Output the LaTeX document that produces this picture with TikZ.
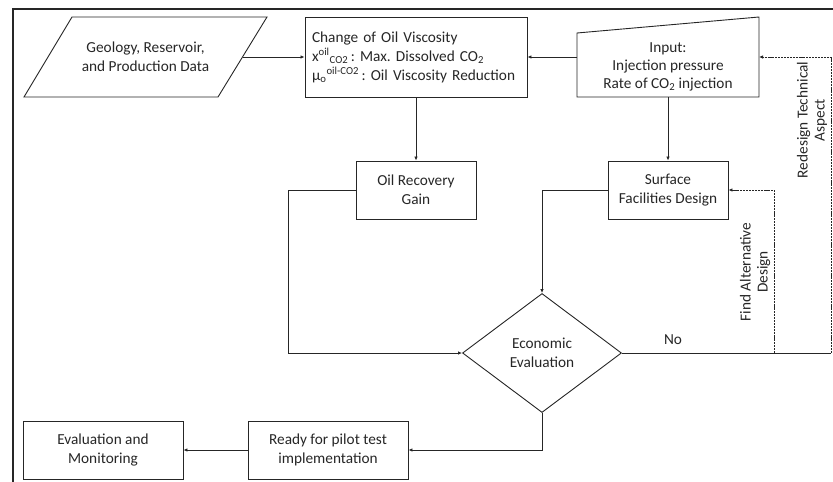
\documentclass[tikz,border=0pt]{standalone}
\usepackage{fontspec}
\setmainfont{Carlito}
\usetikzlibrary{arrows.meta,shapes.geometric}
\frenchspacing
\begin{document}
\begin{tikzpicture}[x=1pt,y=-1pt,
  every node/.style={font=\fontsize{15.3}{19}\selectfont, text=black!85},
  ln/.style={draw=black!85, line width=0.9pt},
  box/.style={ln, minimum width=120, minimum height=58, inner sep=0, align=center},
  arr/.style={ln, -{Latex[length=4pt,width=3.5pt]}},
  dsh/.style={arr, dash pattern=on 2.2pt off 0.9pt},
  rot/.style={rotate=90, align=center, font=\fontsize{15.3}{17}\selectfont}
]
\useasboundingbox (0,0) rectangle (833,482);
% frame
\draw[ln, line width=1.3pt] (13,482) -- (13,9) -- (833,9);

% geology parallelogram
\draw[ln] (72,17) -- (267,17) -- (218,97) -- (24,97) -- cycle;
\node[align=center] (geo) at (145.5,57) {Geology, Reservoir,\\and Production Data};
\coordinate (geoE) at (242.5,57);

% change of viscosity
\node[ln, minimum height=80, text width=208, inner xsep=7, inner ysep=0, align=left] (chg) at (416,57)
 {Change of Oil Viscosity\\
  x\textsuperscript{oil}\textsubscript{CO2}\,: Max. Dissolved CO\textsubscript{2}\\
  μ\textsubscript{o}\textsuperscript{oil-CO2}\,: Oil Viscosity Reduction};

% input (manual input)
\draw[ln] (577,33) -- (759,17) -- (759,97) -- (577,97) -- cycle;
\node[align=center, font=\fontsize{15.3}{18}\selectfont] (inp) at (668,67) {Input:\\Injection pressure\\Rate of CO\textsubscript{2} injection};
\coordinate (inpW) at (577,57);
\coordinate (inpE) at (759,57);
\coordinate (inpS) at (668,97);

\node[box] (orc) at (416,190) {Oil Recovery\\Gain};
\node[box] (sfd) at (668,190) {Surface\\Facilities Design};
\node[ln, diamond, aspect=1.34, minimum width=159, minimum height=119, inner sep=0, align=center] (eco) at (542,353) {Economic\\Evaluation};
\node[box, minimum width=160] (rdy) at (328,450) {Ready for pilot test\\implementation};
\node[box, minimum width=160] (evm) at (103,450) {Evaluation and\\Monitoring};

% connectors
\draw[arr] (geoE) -- (chg.west);
\draw[arr] (inpW) -- (chg.east);
\draw[arr] (chg.south) -- (orc.north);
\draw[arr] (inpS) -- (sfd.north);
\draw[arr] (orc.west) -- ++(-67,0) |- (eco.west);
\draw[arr] (sfd.west) -| (eco.north);
\coordinate (rt) at (831,353);
\coordinate (fa) at (774,353);
\draw[ln] (eco.east) -- (rt);
\node (no) at (673,340) {No};
\draw[dsh] (fa) |- (sfd.east);
\draw[dsh] (rt) |- (inpE);
\draw[arr] (eco.south) |- (rdy.east);
\draw[arr] (rdy.west) -- (evm.east);

\node[rot] (fal) at (755,272) {Find Alternative\\Design};
\node[rot] (rtl) at (812,120) {Redesign Technical\\Aspect};
\end{tikzpicture}
\end{document}
